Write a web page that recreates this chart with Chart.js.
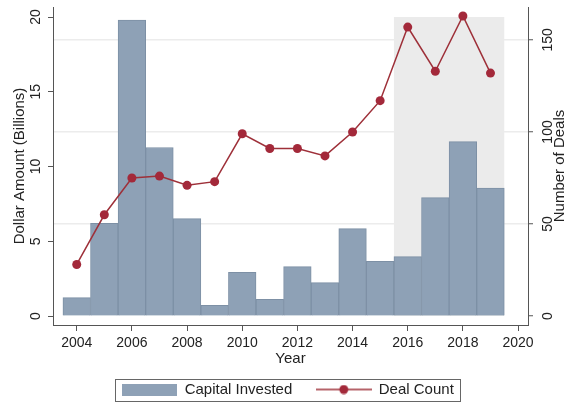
<!DOCTYPE html>
<html>
<head>
<meta charset="utf-8">
<script src="https://cdn.jsdelivr.net/npm/chart.js@4"></script>
<style>
  html, body { margin: 0; padding: 0; background: #fff; }
</style>
</head>
<body>
<canvas id="grafico" width="570" height="403"></canvas>
<script>
const years = [2004, 2005, 2006, 2007, 2008, 2009, 2010, 2011, 2012, 2013, 2014, 2015, 2016, 2017, 2018, 2019];
const capitalInvested = [1.23, 6.2, 19.8, 11.27, 6.52, 0.71, 2.93, 1.12, 3.3, 2.23, 5.85, 3.66, 3.97, 7.92, 11.67, 8.55];
const dealCount = [28, 55, 75, 76, 71, 73, 99, 91, 91, 87, 100, 117, 157, 133, 163, 132];
const xTicks = [2004, 2006, 2008, 2010, 2012, 2014, 2016, 2018, 2020];
const leftTicks = [0, 5, 10, 15, 20];
const rightTicks = [0, 50, 100, 150];
const shadedYears = [2015.5, 2019.5];

const fonte = "'Liberation Sans', Arial, sans-serif";
const corTexto = "#222";
const corEixo = "#555";
const corBarra = "#8ea1b6";
const corLinha = "#9e3039";

// simbolos da legenda
function simboloBarra() {
    const c = document.createElement("canvas");
    c.width = 55;
    c.height = 12;
    const g = c.getContext("2d");
    g.fillStyle = corBarra;
    g.fillRect(0, 0, 55, 12);
    return c;
}

function simboloLinha() {
    const c = document.createElement("canvas");
    c.width = 56;
    c.height = 10;
    const g = c.getContext("2d");
    g.strokeStyle = corLinha;
    g.lineWidth = 1.5;
    g.beginPath();
    g.moveTo(0, 5);
    g.lineTo(56, 5);
    g.stroke();
    g.fillStyle = "#a3293a";
    g.beginPath();
    g.arc(28, 5, 4.5, 0, Math.PI * 2);
    g.fill();
    return c;
}

const areaSombreada = {
    id: "areaSombreada",
    beforeDatasetsDraw(chart) {
        const { ctx, scales } = chart;
        const x0 = scales.x.getPixelForValue(shadedYears[0]);
        const x1 = scales.x.getPixelForValue(shadedYears[1]);
        const yTop = scales.y.getPixelForValue(20);
        const yBot = scales.y.getPixelForValue(0);
        ctx.save();
        ctx.fillStyle = "#ebebeb";
        ctx.fillRect(x0, yTop, x1 - x0, yBot - yTop);
        ctx.restore();
    }
};

const extras = {
    id: "extras",
    afterDraw(chart) {
        const { ctx, chartArea } = chart;
        // titulo do eixo direito, lido de baixo para cima
        ctx.save();
        ctx.font = "15px " + fonte;
        ctx.fillStyle = corTexto;
        ctx.textAlign = "center";
        ctx.textBaseline = "middle";
        ctx.translate(560, (chartArea.top + chartArea.bottom) / 2);
        ctx.rotate(-Math.PI / 2);
        ctx.fillText("Number of Deals", 0, 0);
        ctx.restore();

        // moldura da legenda
        const boxes = chart.legend.legendHitBoxes;
        if (boxes && boxes.length) {
            const first = boxes[0];
            const last = boxes[boxes.length - 1];
            const cy = first.top + first.height / 2;
            ctx.save();
            ctx.strokeStyle = "#666";
            ctx.lineWidth = 1;
            ctx.strokeRect(Math.round(first.left - 7) + 0.5, Math.round(cy - 11) + 0.5,
                Math.round(last.left + last.width - first.left + 13), 22);
            ctx.restore();
        }
    }
};

const ctx = document.getElementById("grafico");

new Chart(ctx, {
    type: "bar",
    data: {
        datasets: [
            {
                type: "line",
                label: "Deal Count",
                data: years.map((ano, i) => ({ x: ano, y: dealCount[i] })),
                yAxisID: "y2",
                borderColor: corLinha,
                borderWidth: 1.5,
                pointRadius: 4.5,
                pointBackgroundColor: "#a3293a",
                pointBorderWidth: 0,
                order: 0
            },
            {
                type: "bar",
                label: "Capital Invested",
                data: years.map((ano, i) => ({ x: ano, y: capitalInvested[i] })),
                yAxisID: "y",
                backgroundColor: corBarra,
                borderColor: "#7d90a5",
                borderWidth: 1,
                barPercentage: 1,
                categoryPercentage: 1,
                order: 1
            }
        ]
    },
    options: {
        responsive: false,
        animation: false,
        layout: {
            padding: { top: 7, left: 6, right: 0, bottom: -4 }
        },
        scales: {
            x: {
                type: "linear",
                min: 2003.14,
                max: 2020.36,
                offset: false,
                afterBuildTicks: (scale) => { scale.ticks = xTicks.map(v => ({ value: v })); },
                afterFit: (scale) => {
                    scale.height = 33;
                    scale.paddingLeft = 0;
                    scale.paddingRight = 0;
                },
                ticks: {
                    color: corTexto,
                    font: { family: fonte, size: 14 },
                    padding: 4,
                    maxRotation: 0,
                    callback: v => String(v)
                },
                grid: {
                    offset: false,
                    drawOnChartArea: false,
                    tickLength: 6,
                    color: corEixo
                },
                border: { display: true, color: corEixo, width: 1 },
                title: {
                    display: true,
                    text: "Year",
                    color: corTexto,
                    font: { family: fonte, size: 15, lineHeight: 1 },
                    padding: { top: 0, bottom: -8.5 }
                }
            },
            y: {
                position: "left",
                min: -0.6,
                max: 20.67,
                afterBuildTicks: (scale) => { scale.ticks = leftTicks.map(v => ({ value: v })); },
                afterFit: (scale) => {
                    scale.width = 47;
                    scale.paddingTop = 0;
                    scale.paddingBottom = 0;
                },
                ticks: {
                    color: corTexto,
                    font: { family: fonte, size: 14 },
                    minRotation: 90,
                    maxRotation: 90,
                    crossAlign: "center",
                    padding: 4
                },
                grid: {
                    drawOnChartArea: false,
                    tickLength: 5,
                    color: corEixo
                },
                border: { display: true, color: corEixo, width: 1 },
                title: {
                    display: true,
                    text: "Dollar Amount (Billions)",
                    color: corTexto,
                    font: { family: fonte, size: 15, lineHeight: 1 },
                    padding: { top: 6.5, bottom: 0 }
                }
            },
            y2: {
                position: "right",
                min: -4.9,
                max: 167.9,
                afterBuildTicks: (scale) => { scale.ticks = rightTicks.map(v => ({ value: v })); },
                afterFit: (scale) => {
                    scale.width = 42;
                    scale.paddingTop = 0;
                    scale.paddingBottom = 0;
                },
                ticks: {
                    color: corTexto,
                    font: { family: fonte, size: 14 },
                    minRotation: 90,
                    maxRotation: 90,
                    crossAlign: "center",
                    padding: 3
                },
                grid: {
                    drawOnChartArea: true,
                    tickLength: 5,
                    lineWidth: 1.5,
                    color: (c) => (c.tick && c.tick.value === 0 ? "rgba(0,0,0,0)" : "#ececec"),
                    tickColor: corEixo,
                    tickWidth: 1
                },
                border: { display: true, color: corEixo, width: 1 }
            }
        },
        plugins: {
            tooltip: { enabled: false },
            legend: {
                position: "bottom",
                labels: {
                    usePointStyle: true,
                    pointStyleWidth: 55,
                    padding: 24,
                    color: corTexto,
                    font: { family: fonte, size: 15 },
                    generateLabels: () => [
                        { text: "Capital Invested", pointStyle: simboloBarra(), datasetIndex: 1, hidden: false, fontColor: corTexto, lineWidth: 0 },
                        { text: "Deal Count", pointStyle: simboloLinha(), datasetIndex: 0, hidden: false, fontColor: corTexto, lineWidth: 0 }
                    ]
                }
            }
        }
    },
    plugins: [areaSombreada, extras]
});
</script>
</body>
</html>
